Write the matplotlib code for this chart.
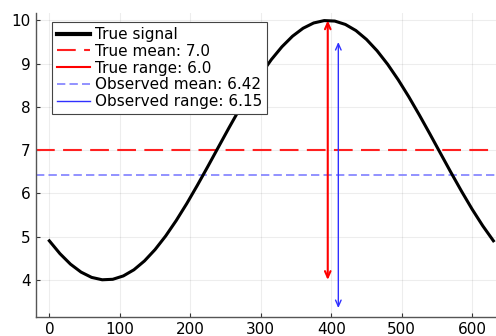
import matplotlib
matplotlib.use("Agg")
import matplotlib.pyplot as plt
from matplotlib.lines import Line2D

# ---- data ----
signal_x = [0, 15, 30, 45, 60, 75, 90, 105, 120, 135, 150, 165, 180, 195, 210,
            225, 240, 255, 270, 285, 300, 315, 330, 345, 360, 375, 390, 405,
            420, 435, 450, 465, 480, 495, 510, 525, 540, 555, 570, 585, 600,
            615, 630]
signal_y = [4.905, 4.609, 4.365, 4.181, 4.059, 4.004, 4.015, 4.093, 4.235,
            4.440, 4.702, 5.015, 5.373, 5.766, 6.188, 6.627, 7.075, 7.521,
            7.955, 8.369, 8.751, 9.095, 9.391, 9.635, 9.819, 9.941, 9.996,
            9.985, 9.907, 9.765, 9.560, 9.298, 8.985, 8.627, 8.234, 7.812,
            7.373, 6.925, 6.479, 6.045, 5.631, 5.249, 4.905]

true_mean = 7.0
obs_mean = 6.42
true_range_x = 395
true_range_y = [4.0, 10.0]
obs_range_x = 410
obs_range_y = [3.35, 9.5]

labels = ["True signal", "True mean: 7.0", "True range: 6.0",
          "Observed mean: 6.42", "Observed range: 6.15"]
xticks = [0, 100, 200, 300, 400, 500, 600]
yticks = [4, 5, 6, 7, 8, 9, 10]

# ---- figure ----
fig = plt.figure(figsize=(4.96, 3.36), dpi=100)
ax = fig.add_axes([0.0726, 0.0574, 0.949, 0.905])

ax.plot(signal_x, signal_y, color="black", lw=2.2, zorder=3)
ax.axhline(true_mean, color="#ff2020", lw=1.5, dashes=(9, 4), zorder=2)
ax.axhline(obs_mean, color="#7f7fff", lw=1.2, dashes=(5, 2.5), zorder=2)

ax.annotate("", xy=(true_range_x, true_range_y[0]),
            xytext=(true_range_x, true_range_y[1]),
            arrowprops=dict(arrowstyle="<->,head_length=0.45,head_width=0.2",
                            color="red", lw=1.5, shrinkA=0, shrinkB=0),
            zorder=4)
ax.annotate("", xy=(obs_range_x, obs_range_y[0]),
            xytext=(obs_range_x, obs_range_y[1]),
            arrowprops=dict(arrowstyle="<->,head_length=0.45,head_width=0.2",
                            color="#3030ff", lw=1.0, shrinkA=0, shrinkB=0),
            zorder=4)

ax.set_xlim(-18.9, 648.9)
ax.set_ylim(3.15, 10.18)
ax.set_xticks(xticks)
ax.set_yticks(yticks)
ax.tick_params(direction="in", length=3, width=0.8, labelsize=11,
               colors="#333333", labelcolor="black", pad=4)
ax.grid(True, color="black", alpha=0.07, lw=0.8)
for s in ["top", "right"]:
    ax.spines[s].set_visible(False)
for s in ["left", "bottom"]:
    ax.spines[s].set_color("#555555")
    ax.spines[s].set_linewidth(1.0)

handles = [
    Line2D([], [], color="black", lw=3),
    Line2D([], [], color="#ff2020", lw=1.5, dashes=(9, 4)),
    Line2D([], [], color="red", lw=1.5),
    Line2D([], [], color="#7f7fff", lw=1.2, dashes=(5, 2.5)),
    Line2D([], [], color="#3030ff", lw=1.0),
]
leg = ax.legend(handles, labels, loc="upper left",
                bbox_to_anchor=(0.034, 0.968), borderaxespad=0,
                fontsize=11, fancybox=False, framealpha=1,
                edgecolor="#444444", handlelength=2.2, handletextpad=0.3,
                labelspacing=0.12, borderpad=0.3)
leg.get_frame().set_linewidth(0.8)

fig.savefig("out.png", dpi=100)
